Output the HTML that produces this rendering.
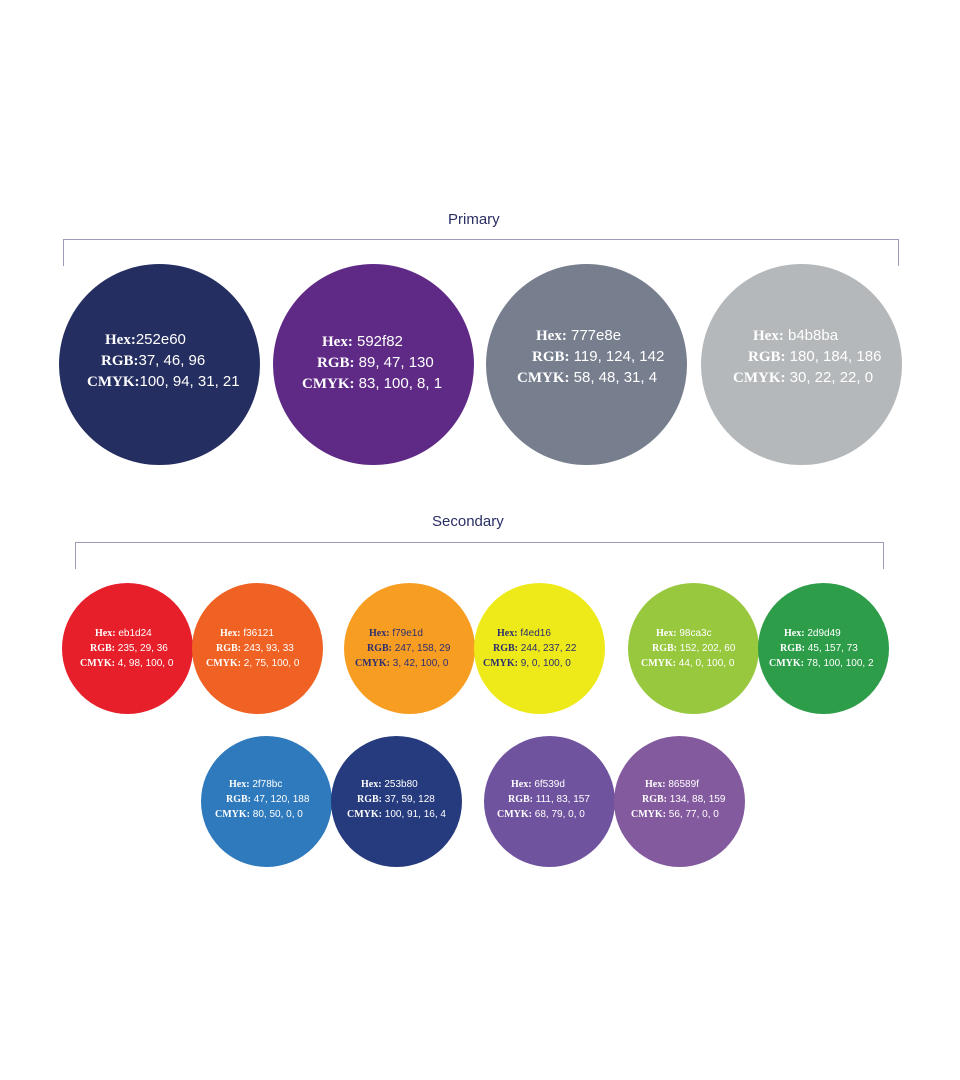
<!DOCTYPE html>
<html><head><meta charset="utf-8"><style>
body{margin:0;width:960px;height:1080px;background:#fff;position:relative;overflow:hidden;font-family:"Liberation Sans",sans-serif}
.c{position:absolute;border-radius:50%}
.t{position:absolute;white-space:nowrap;color:#fff}
.t b{font-family:"Liberation Serif",serif;font-weight:bold}
.p{font-size:15px;line-height:21px}
.s{font-size:10px;line-height:15px}
.d{color:#2d2e6e}
.h{position:absolute;color:#2a2e64;font-size:15px}
.br{position:absolute;border:1px solid #9a9cb8;border-bottom:none}
</style></head><body>
<div class="h" style="left:448px;top:211px">Primary</div>
<div class="br" style="left:63px;top:239px;width:834px;height:26px"></div>
<div class="h" style="left:432px;top:513px">Secondary</div>
<div class="br" style="left:75px;top:542px;width:807px;height:26px"></div>

<div class="c" style="left:59px;top:264px;width:201px;height:201px;background:#252e60"></div>
<div class="c" style="left:273px;top:264px;width:201px;height:201px;background:#5f2a86"></div>
<div class="c" style="left:486px;top:264px;width:201px;height:201px;background:#777e8e"></div>
<div class="c" style="left:701px;top:264px;width:201px;height:201px;background:#b4b8ba"></div>

<div class="t p" style="left:105px;top:329px"><b>Hex:</b>252e60</div>
<div class="t p" style="left:101px;top:350px"><b>RGB:</b>37, 46, 96</div>
<div class="t p" style="left:87px;top:371px"><b>CMYK:</b>100, 94, 31, 21</div>
<div class="t p" style="left:322px;top:331px"><b>Hex:</b> 592f82</div>
<div class="t p" style="left:317px;top:352px"><b>RGB:</b> 89, 47, 130</div>
<div class="t p" style="left:302px;top:373px"><b>CMYK:</b> 83, 100, 8, 1</div>
<div class="t p" style="left:536px;top:325px"><b>Hex:</b> 777e8e</div>
<div class="t p" style="left:532px;top:346px"><b>RGB:</b> 119, 124, 142</div>
<div class="t p" style="left:517px;top:367px"><b>CMYK:</b> 58, 48, 31, 4</div>
<div class="t p" style="left:753px;top:325px"><b>Hex:</b> b4b8ba</div>
<div class="t p" style="left:748px;top:346px"><b>RGB:</b> 180, 184, 186</div>
<div class="t p" style="left:733px;top:367px"><b>CMYK:</b> 30, 22, 22, 0</div>

<div class="c" style="left:62px;top:583px;width:131px;height:131px;background:#e71f2a"></div>
<div class="c" style="left:192px;top:583px;width:131px;height:131px;background:#f06223"></div>
<div class="c" style="left:344px;top:583px;width:131px;height:131px;background:#f79e22"></div>
<div class="c" style="left:474px;top:583px;width:131px;height:131px;background:#eeea1a"></div>
<div class="c" style="left:628px;top:583px;width:131px;height:131px;background:#98c83e"></div>
<div class="c" style="left:758px;top:583px;width:131px;height:131px;background:#2d9d49"></div>
<div class="c" style="left:201px;top:736px;width:131px;height:131px;background:#2f7abc"></div>
<div class="c" style="left:331px;top:736px;width:131px;height:131px;background:#263b7e"></div>
<div class="c" style="left:484px;top:736px;width:131px;height:131px;background:#6f539f"></div>
<div class="c" style="left:614px;top:736px;width:131px;height:131px;background:#845a9f"></div>

<div class="t s" style="left:95px;top:626px"><b>Hex:</b> eb1d24</div>
<div class="t s" style="left:90px;top:641px"><b>RGB:</b> 235, 29, 36</div>
<div class="t s" style="left:80px;top:656px"><b>CMYK:</b> 4, 98, 100, 0</div>
<div class="t s" style="left:220px;top:626px"><b>Hex:</b> f36121</div>
<div class="t s" style="left:216px;top:641px"><b>RGB:</b> 243, 93, 33</div>
<div class="t s" style="left:206px;top:656px"><b>CMYK:</b> 2, 75, 100, 0</div>
<div class="t s d" style="left:369px;top:626px"><b>Hex:</b> f79e1d</div>
<div class="t s d" style="left:367px;top:641px"><b>RGB:</b> 247, 158, 29</div>
<div class="t s d" style="left:355px;top:656px"><b>CMYK:</b> 3, 42, 100, 0</div>
<div class="t s d" style="left:497px;top:626px"><b>Hex:</b> f4ed16</div>
<div class="t s d" style="left:493px;top:641px"><b>RGB:</b> 244, 237, 22</div>
<div class="t s d" style="left:483px;top:656px"><b>CMYK:</b> 9, 0, 100, 0</div>
<div class="t s" style="left:656px;top:626px"><b>Hex:</b> 98ca3c</div>
<div class="t s" style="left:652px;top:641px"><b>RGB:</b> 152, 202, 60</div>
<div class="t s" style="left:641px;top:656px"><b>CMYK:</b> 44, 0, 100, 0</div>
<div class="t s" style="left:784px;top:626px"><b>Hex:</b> 2d9d49</div>
<div class="t s" style="left:780px;top:641px"><b>RGB:</b> 45, 157, 73</div>
<div class="t s" style="left:769px;top:656px"><b>CMYK:</b> 78, 100, 100, 2</div>

<div class="t s" style="left:229px;top:777px"><b>Hex:</b> 2f78bc</div>
<div class="t s" style="left:226px;top:792px"><b>RGB:</b> 47, 120, 188</div>
<div class="t s" style="left:215px;top:807px"><b>CMYK:</b> 80, 50, 0, 0</div>
<div class="t s" style="left:361px;top:777px"><b>Hex:</b> 253b80</div>
<div class="t s" style="left:357px;top:792px"><b>RGB:</b> 37, 59, 128</div>
<div class="t s" style="left:347px;top:807px"><b>CMYK:</b> 100, 91, 16, 4</div>
<div class="t s" style="left:511px;top:777px"><b>Hex:</b> 6f539d</div>
<div class="t s" style="left:508px;top:792px"><b>RGB:</b> 111, 83, 157</div>
<div class="t s" style="left:497px;top:807px"><b>CMYK:</b> 68, 79, 0, 0</div>
<div class="t s" style="left:645px;top:777px"><b>Hex:</b> 86589f</div>
<div class="t s" style="left:642px;top:792px"><b>RGB:</b> 134, 88, 159</div>
<div class="t s" style="left:631px;top:807px"><b>CMYK:</b> 56, 77, 0, 0</div>
</body></html>
